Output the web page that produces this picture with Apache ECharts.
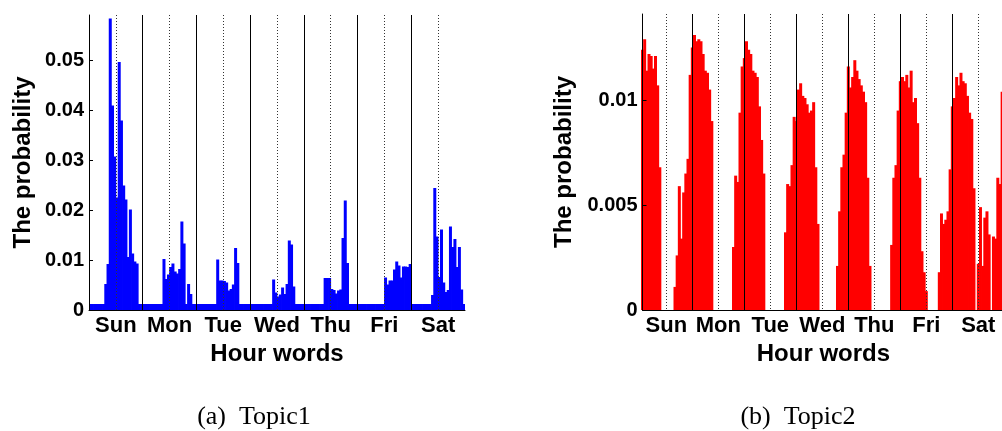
<!DOCTYPE html>
<html>
<head>
<meta charset="utf-8">
<script src="https://cdn.jsdelivr.net/npm/echarts@6/dist/echarts.min.js"></script>
<style>
  html, body { margin: 0; padding: 0; background: #fff; }
  #c { width: 1002px; height: 431px; }
</style>
</head>
<body>
<div id="c"></div>
<script>
// Day names shown under each day block (one label at noon of each day)
const dayNames = ['Sun', 'Mon', 'Tue', 'Wed', 'Thu', 'Fri', 'Sat'];

// Topic 1: probability of each hour word, 24 values per day
const t1Sun = [0.0012,0.0012,0.0012,0.0012,0.0012,0.0012,0.0012,0.0052,0.0092,0.0583,0.0409,0.0307,0.0225,0.0496,0.0379,0.0249,0.0221,0.0106,0.0201,0.0113,0.0097,0.0093,0.0012,0.0012];
const t1Mon = [0.0012,0.0012,0.0012,0.0012,0.0012,0.0012,0.0012,0.0012,0.0012,0.0102,0.0062,0.0071,0.0086,0.0093,0.0077,0.0073,0.0082,0.0177,0.0133,0.0012,0.0052,0.0032,0.0012,0.0012];
const t1Tue = [0.0012,0.0012,0.0012,0.0012,0.0012,0.0012,0.0012,0.0012,0.0012,0.0101,0.0059,0.0059,0.0058,0.0055,0.0039,0.0042,0.0051,0.0124,0.0094,0.0012,0.0012,0.0012,0.0012,0.0012];
const t1Wed = [0.0012,0.0012,0.0012,0.0012,0.0012,0.0012,0.0012,0.0012,0.0012,0.0012,0.0061,0.0035,0.0027,0.0031,0.0045,0.0032,0.0052,0.0139,0.0131,0.0047,0.0012,0.0012,0.0012,0.0012];
const t1Thu = [0.0012,0.0012,0.0012,0.0012,0.0012,0.0012,0.0012,0.0012,0.0012,0.0064,0.0064,0.0064,0.0042,0.0040,0.0033,0.0039,0.0041,0.0144,0.0219,0.0094,0.0012,0.0012,0.0012,0.0012];
const t1Fri = [0.0012,0.0012,0.0012,0.0012,0.0012,0.0012,0.0012,0.0012,0.0012,0.0012,0.0012,0.0012,0.0065,0.0051,0.0059,0.0059,0.0081,0.0097,0.0089,0.0065,0.0087,0.0087,0.0086,0.0092];
const t1Sat = [0.0012,0.0012,0.0012,0.0012,0.0012,0.0012,0.0012,0.0012,0.0012,0.0030,0.0244,0.0147,0.0066,0.0161,0.0055,0.0036,0.0040,0.0167,0.0126,0.0142,0.0086,0.0126,0.0041,0.0012];

// Topic 2: probability of each hour word, 24 values per day
const t2Sun = [0.0124,0.0129,0.0114,0.0122,0.0121,0.0115,0.0121,0.0107,0.0068,0,0,0,0,0,0,0.0011,0.0026,0.0059,0.0034,0.0056,0.0065,0.0072,0.0112,0.0125];
const t2Mon = [0.0131,0.0128,0.0129,0.0128,0.0122,0.0114,0.0113,0.0105,0.0090,0,0,0,0,0,0,0,0,0,0.0030,0.0064,0.0061,0.0094,0.0116,0.0120];
const t2Tue = [0.0128,0.0124,0.0122,0.0114,0.0113,0.0111,0.0097,0.0081,0.0065,0,0,0,0,0,0,0,0,0,0.0037,0.0060,0.0059,0.0069,0.0092,0.0090];
const t2Wed = [0.0105,0.0108,0.0102,0.0101,0.0098,0.0094,0.0095,0.0099,0.0068,0.0041,0,0,0,0,0,0,0,0,0.0021,0.0047,0.0068,0.0074,0.0094,0.0116];
const t2Thu = [0.0106,0.0111,0.0119,0.0114,0.0110,0.0107,0.0104,0.0099,0.0063,0.0021,0,0,0,0,0,0,0,0,0,0.0031,0.0063,0.0069,0.0095,0.0109];
const t2Fri = [0.0111,0.0109,0.0112,0.0106,0.0114,0.0099,0.0101,0.0089,0.0063,0.0028,0.0018,0.0009,0,0,0,0,0,0.0018,0.0046,0.0041,0.0043,0.0047,0.0067,0.0097];
const t2Sat = [0.0101,0.0111,0.0107,0.0113,0.0109,0.0108,0.0102,0.0094,0.0091,0.0058,0,0.0022,0.0049,0.0021,0.0044,0.0047,0.0036,0,0.0035,0.0034,0.0063,0.0060,0.0104,0.0098];

// Value-axis ranges and tick steps
const y1Max = 0.059, y1Step = 0.01;
const y2Max = 0.0141, y2Step = 0.005;

const topic1 = [].concat(t1Sun, t1Mon, t1Tue, t1Wed, t1Thu, t1Fri, t1Sat);
const topic2 = [].concat(t2Sun, t2Mon, t2Tue, t2Wed, t2Thu, t2Fri, t2Sat);
const hourWords = topic1.map((_, i) => String(i + 1));

const sans = "'Liberation Sans', Arial, Helvetica, sans-serif";
const tickFont = { fontFamily: sans, fontSize: 20, fontWeight: 'bold', color: '#000' };
const dayFont = { fontFamily: sans, fontSize: 22, fontWeight: 'bold', color: '#000' };
const nameFont = { fontFamily: sans, fontSize: 24, fontWeight: 'bold', color: '#000' };
const captionFont = { fontFamily: "'Liberation Serif', 'Times New Roman', serif", fontSize: 26, fontWeight: 'normal', color: '#000' };

const hidden = { axisLine: { show: false }, axisTick: { show: false }, axisLabel: { show: false } };
const solidSep = { color: '#000', width: 1 };
const dottedSep = { color: '#333', width: 1, type: [1, 2] };

function valueYAxis(gridIndex, max, step, nameGap) {
  return {
    type: 'value', gridIndex, min: 0, max, interval: step, z: 10,
    axisLine: { show: true, lineStyle: { color: '#000', width: 1 } },
    axisTick: { show: true, inside: true, length: 4, lineStyle: { color: '#000' } },
    splitLine: { show: false },
    axisLabel: Object.assign({ margin: 5, showMaxLabel: false }, tickFont),
    name: 'The probability', nameLocation: 'middle', nameGap,
    nameTextStyle: nameFont
  };
}

const option = {
  animation: false,
  backgroundColor: '#fff',
  title: [
    { text: '(a)  Topic1', left: 254, top: 404, textAlign: 'center', padding: 0, textStyle: captionFont },
    { text: '(b)  Topic2', left: 798, top: 404, textAlign: 'center', padding: 0, textStyle: captionFont }
  ],
  grid: [
    { left: 89, top: 15, width: 376, height: 295, outerBoundsMode: 'none' },
    { left: 642.5, top: 14, width: 361.8, height: 296, outerBoundsMode: 'none' }
  ],
  xAxis: [
    // Topic 1: hour bars, solid line at each day boundary
    Object.assign({}, hidden, {
      type: 'category', gridIndex: 0, data: hourWords, boundaryGap: true, position: 'bottom', z: 10,
      axisLine: { show: true, onZero: false, lineStyle: { color: '#000', width: 1 } },
      splitLine: { show: true, showMaxLine: false, interval: (i) => i > 0 && i % 24 === 0, lineStyle: solidSep }
    }),
    // Topic 1: dotted line at noon of every day
    Object.assign({}, hidden, {
      type: 'category', gridIndex: 0, data: hourWords, boundaryGap: true, position: 'bottom', z: 10,
      splitLine: { show: true, showMaxLine: false, interval: (i) => i % 24 === 12, lineStyle: dottedSep }
    }),
    // Topic 1: day names at noon, axis title
    {
      type: 'value', gridIndex: 0, min: 0, max: 168, interval: 12, position: 'bottom',
      axisLine: { show: false }, axisTick: { show: false }, splitLine: { show: false },
      axisLabel: Object.assign({ margin: 5, formatter: (v) => (v % 24 === 12 ? dayNames[(v - 12) / 24] : '') }, dayFont),
      name: 'Hour words', nameLocation: 'middle', nameGap: 29, nameTextStyle: nameFont
    },
    // Topic 2: hour bars centred on the hour points, solid line at each day mark
    Object.assign({}, hidden, {
      type: 'category', gridIndex: 1, data: hourWords, boundaryGap: false, position: 'bottom', z: 10,
      axisLine: { show: true, onZero: false, lineStyle: { color: '#000', width: 1 } },
      splitLine: { show: true, interval: (i) => i % 24 === 23, lineStyle: solidSep }
    }),
    // Topic 2: dotted noon lines, day names, axis title
    {
      type: 'category', gridIndex: 1, data: hourWords, boundaryGap: false, position: 'bottom', z: 10,
      axisLine: { show: false }, axisTick: { show: false },
      splitLine: { show: true, interval: (i) => i % 24 === 11, lineStyle: dottedSep },
      axisLabel: Object.assign({ margin: 5, interval: (i) => i % 24 === 11, formatter: (v, i) => dayNames[Math.floor(i / 24)] }, dayFont),
      name: 'Hour words', nameLocation: 'middle', nameGap: 29, nameTextStyle: nameFont
    }
  ],
  yAxis: [
    valueYAxis(0, y1Max, y1Step, 54),
    valueYAxis(1, y2Max, y2Step, 66)
  ],
  series: [
    // bars are a touch wider than one hour slot so neighbours overlap without hairline seams
    {
      type: 'bar', xAxisIndex: 0, yAxisIndex: 0, data: topic1,
      barWidth: 3, itemStyle: { color: '#0000ff' }, silent: true, clip: true
    },
    {
      type: 'bar', xAxisIndex: 3, yAxisIndex: 1, data: topic2,
      barWidth: 3, itemStyle: { color: '#ff0000' }, silent: true, clip: true
    }
  ]
};

const chart = echarts.init(document.getElementById('c'));
chart.setOption(option);
</script>
</body>
</html>
